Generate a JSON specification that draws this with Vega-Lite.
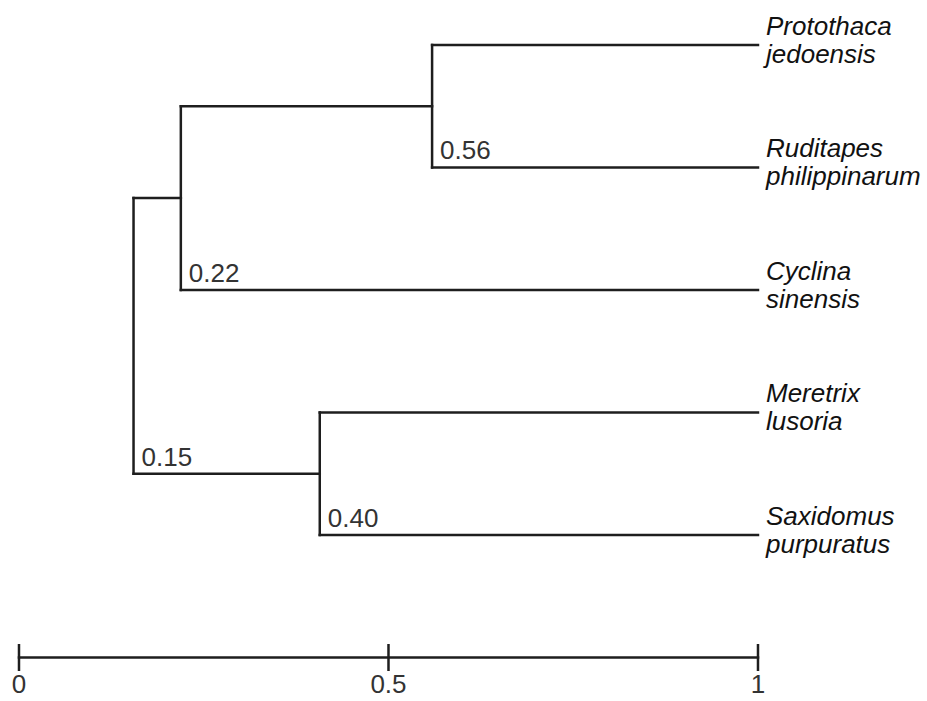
{
  "$schema": "https://vega.github.io/schema/vega-lite/v6.json",
  "width": 927,
  "height": 701,
  "padding": 0,
  "autosize": {"type": "none"},
  "background": "white",
  "config": {"view": {"stroke": null}},
  "datasets": {
    "segments": [
      {"x": 0.559, "x2": 1.0, "y": 0, "y2": 0},
      {"x": 0.559, "x2": 1.0, "y": 1, "y2": 1},
      {"x": 0.219, "x2": 1.0, "y": 2, "y2": 2},
      {"x": 0.407, "x2": 1.0, "y": 3, "y2": 3},
      {"x": 0.407, "x2": 1.0, "y": 4, "y2": 4},
      {"x": 0.219, "x2": 0.559, "y": 0.5, "y2": 0.5},
      {"x": 0.155, "x2": 0.219, "y": 1.25, "y2": 1.25},
      {"x": 0.155, "x2": 0.407, "y": 3.5, "y2": 3.5},
      {"x": 0.559, "x2": 0.559, "y": 0, "y2": 1},
      {"x": 0.219, "x2": 0.219, "y": 0.5, "y2": 2},
      {"x": 0.407, "x2": 0.407, "y": 3, "y2": 4},
      {"x": 0.155, "x2": 0.155, "y": 1.25, "y2": 3.5},
      {"x": 0.0, "x2": 1.0, "y": 5, "y2": 5},
      {"x": 0.0, "x2": 0.0, "y": 4.9, "y2": 5.1},
      {"x": 0.5, "x2": 0.5, "y": 4.9, "y2": 5.1},
      {"x": 1.0, "x2": 1.0, "y": 4.9, "y2": 5.1}
    ],
    "nodes": [
      {"x": 0.559, "y": 1, "label": "0.56"},
      {"x": 0.219, "y": 2, "label": "0.22"},
      {"x": 0.155, "y": 3.5, "label": "0.15"},
      {"x": 0.407, "y": 4, "label": "0.40"}
    ],
    "leaves": [
      {"x": 1.0, "y": 0, "name": "Protothaca\njedoensis"},
      {"x": 1.0, "y": 1, "name": "Ruditapes\nphilippinarum"},
      {"x": 1.0, "y": 2, "name": "Cyclina\nsinensis"},
      {"x": 1.0, "y": 3, "name": "Meretrix\nlusoria"},
      {"x": 1.0, "y": 4, "name": "Saxidomus\npurpuratus"}
    ],
    "scale": [
      {"x": 0.0, "y": 5, "label": "0"},
      {"x": 0.5, "y": 5, "label": "0.5"},
      {"x": 1.0, "y": 5, "label": "1"}
    ]
  },
  "layer": [
    {
      "data": {"name": "segments"},
      "mark": {"type": "rule", "stroke": "#1e1e1e", "strokeWidth": 2.5, "strokeCap": "square"},
      "encoding": {
        "x": {"field": "x", "type": "quantitative", "axis": null, "scale": {"domain": [-0.0257, 1.2287], "nice": false, "zero": false}},
        "x2": {"field": "x2"},
        "y": {"field": "y", "type": "quantitative", "axis": null, "scale": {"domain": [-0.3673, 5.3551], "nice": false, "zero": false, "reverse": true}},
        "y2": {"field": "y2"}
      }
    },
    {
      "data": {"name": "nodes"},
      "mark": {"type": "text", "align": "left", "baseline": "alphabetic", "dx": 8, "dy": -8, "font": "Liberation Sans", "fontSize": 26, "fill": "#333333"},
      "encoding": {
        "x": {"field": "x", "type": "quantitative", "axis": null},
        "y": {"field": "y", "type": "quantitative", "axis": null},
        "text": {"field": "label"}
      }
    },
    {
      "data": {"name": "leaves"},
      "mark": {"type": "text", "align": "left", "baseline": "alphabetic", "dx": 8, "dy": -10, "lineBreak": "\n", "lineHeight": 28, "font": "Liberation Sans", "fontStyle": "italic", "fontSize": 26, "fill": "#111111"},
      "encoding": {
        "x": {"field": "x", "type": "quantitative", "axis": null},
        "y": {"field": "y", "type": "quantitative", "axis": null},
        "text": {"field": "name"}
      }
    },
    {
      "data": {"name": "scale"},
      "mark": {"type": "text", "align": "center", "baseline": "alphabetic", "dy": 36, "font": "Liberation Sans", "fontSize": 26, "fill": "#333333"},
      "encoding": {
        "x": {"field": "x", "type": "quantitative", "axis": null},
        "y": {"field": "y", "type": "quantitative", "axis": null},
        "text": {"field": "label"}
      }
    }
  ]
}
